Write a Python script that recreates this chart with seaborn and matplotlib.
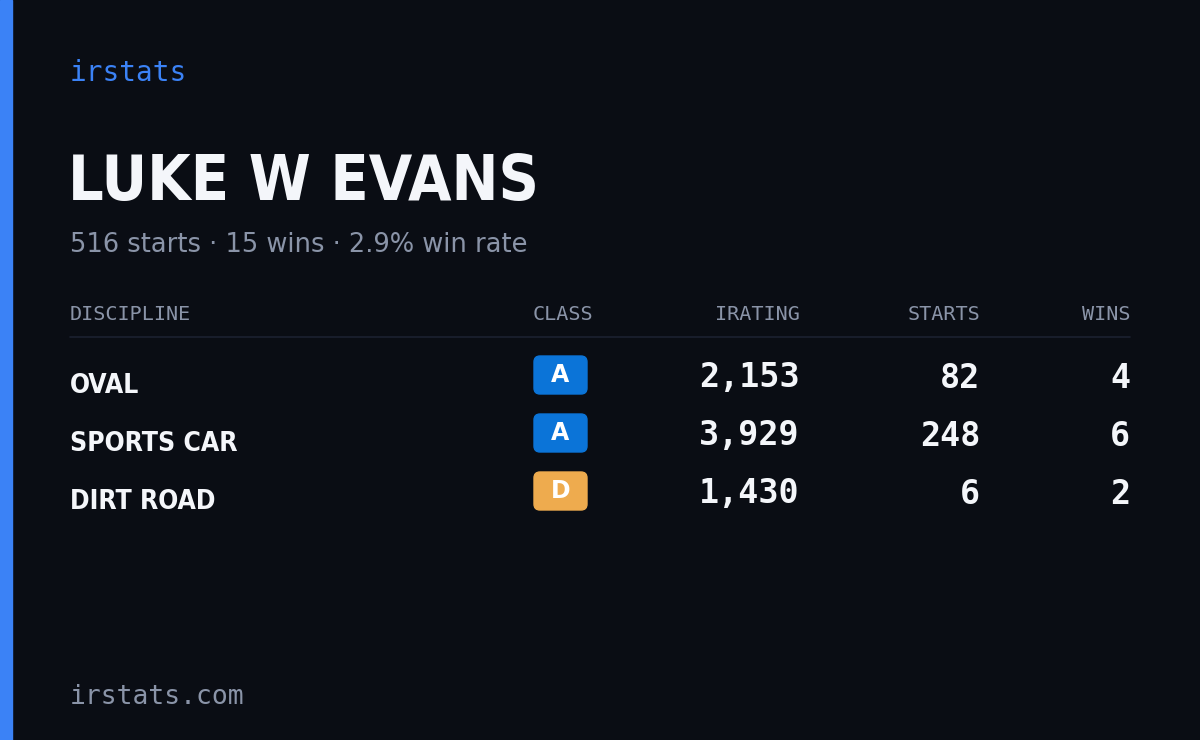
import matplotlib
matplotlib.use("Agg")
import matplotlib.pyplot as plt
import seaborn as sns
from matplotlib.patches import FancyBboxPatch, Rectangle

sns.set_theme(style="dark")
plt.rcParams['font.family'] = ['DejaVu Sans']

brand = "irstats"
driver = "LUKE W EVANS"
summary = "516 starts · 15 wins · 2.9% win rate"
headers = ["DISCIPLINE", "CLASS", "IRATING", "STARTS", "WINS"]
disciplines = ["OVAL", "SPORTS CAR", "DIRT ROAD"]
classes = ["A", "A", "D"]
iratings = [2153, 3929, 1430]
starts = [82, 248, 6]
wins = [4, 6, 2]
footer = "irstats.com"

class_colors = {"A": "#0b74d8", "B": "#22a04b", "C": "#e0b020", "D": "#eeab4e"}
mono = "DejaVu Sans Mono"

bg = "#0a0d14"
fig = plt.figure(figsize=(12, 7.4), dpi=100, facecolor=bg)
ax = fig.add_axes([0, 0, 1, 1])
ax.set_xlim(0, 1200); ax.set_ylim(740, 0); ax.axis("off")
ax.add_patch(Rectangle((0, 0), 12, 740, color="#3b82f6"))

ax.text(70, 73, brand, color="#3b82f6", fontsize=20, family=mono, va="center")
ax.text(68, 183, driver, color="#f4f6fa", fontsize=45, family="DejaVu Sans",
        fontstretch="condensed", weight="bold", va="center")
ax.text(70, 245, summary, color="#8a94a8", fontsize=18.5, va="center")

hx = [70, 593, 800, 980, 1130]
ha = ["left", "right", "right", "right", "right"]
for x, h, a in zip(hx, headers, ha):
    ax.text(x, 314, h, color="#8a94a8", fontsize=14.5, family=mono, ha=a, va="center")
ax.plot([70, 1130], [337, 337], color="#1c2130", lw=1.2)

ys = [384, 442, 500]
for y, d, c, ir, s, w in zip(ys, disciplines, classes, iratings, starts, wins):
    ax.text(70, y + 2, d, color="#f4f6fa", fontsize=19, family="DejaVu Sans",
            fontstretch="condensed", weight="bold", va="center")
    ax.add_patch(FancyBboxPatch((536, y - 26), 49, 34, boxstyle="round,pad=2,rounding_size=6",
                                color=class_colors[c]))
    ax.text(560.5, y - 9, c, color="white", fontsize=17, weight="bold", ha="center", va="center")
    for x, v in [(800, f"{ir:,}"), (980, f"{s}"), (1130, f"{w}")]:
        ax.text(x, y - 6, v, color="#f4f6fa", fontsize=24, family=mono, weight="bold",
                ha="right", va="center")

ax.text(70, 697, footer, color="#8a94a8", fontsize=19, family=mono, va="center")
fig.savefig("out.png", dpi=100, facecolor=bg)
